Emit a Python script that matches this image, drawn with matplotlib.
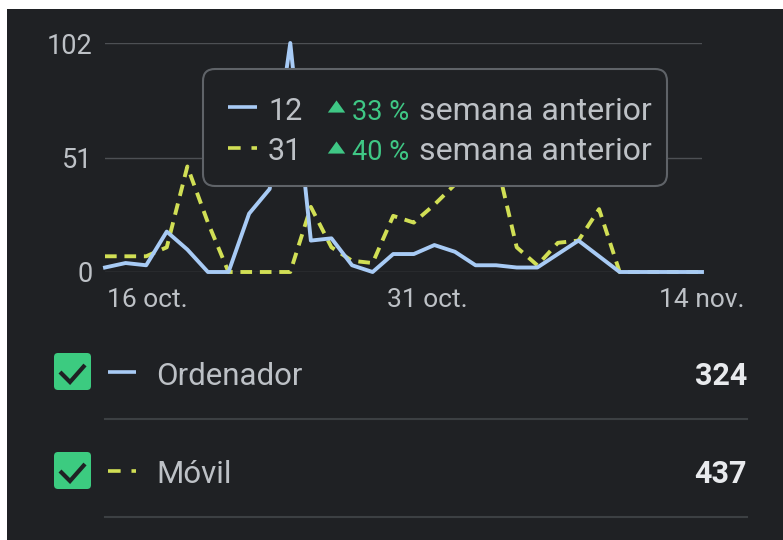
import matplotlib
matplotlib.use("Agg")
import matplotlib.pyplot as plt
import matplotlib.transforms as mtransforms
import pandas as pd
from matplotlib.patches import FancyBboxPatch, Rectangle

plt.rcParams["font.family"] = ["Roboto", "DejaVu Sans"]

# data
dates = pd.date_range("2023-10-16", "2023-11-14", freq="D")
ordenador = [2, 4, 3, 18, 10, 0, 0, 26, 37, 102, 14, 15, 3, 0, 8, 8, 12, 9, 3, 3,
             2, 2, 8, 14, 7, 0, 0, 0, 0, 0]
movil = [7, 7, 7, 11, 47, 22, 0, 0, 0, 0, 29, 11, 5, 4, 25, 22, 30, 39, 54, 50,
         11, 3, 13, 14, 28, 0, 0, 0, 0, 0]
y_ticks = [0, 51, 102]
x_tick_dates = pd.to_datetime(["2023-10-16", "2023-10-31", "2023-11-14"])
x_tick_labels = ["16 oct.", "31 oct.", "14 nov."]

series_names = ["Ordenador", "Móvil"]
series_totals = ["324", "437"]
tooltip_values = ["12", "31"]
tooltip_changes = ["33 %", "40 %"]

BG = "#1f2124"
GRID = "#4d5054"
TXT = "#bdc1c6"
BLUE = "#a8cbf5"
LIME = "#d1df55"
GREEN = "#3fc785"
CHECK = "#3ccb80"

fig = plt.figure(figsize=(7.83, 5.4), dpi=100, facecolor="white")
fig.add_artist(Rectangle((7 / 783, 0), 776 / 783, 531 / 540, transform=fig.transFigure,
                         facecolor=BG, edgecolor="none", zorder=-1))

# chart
ax = fig.add_axes([105 / 783, (540 - 272) / 540, 597 / 783, 229 / 540])
ax.patch.set_alpha(0)
for s in ax.spines.values():
    s.set_visible(False)
ax.plot(dates, ordenador, color=BLUE, lw=2.8, clip_on=False, zorder=3)
ax.plot(dates, movil, color=LIME, lw=2.8, ls=(0, (3, 2)), clip_on=False, zorder=2)
ax.set_xlim(dates[0], dates[-1])
ax.set_ylim(0, 102)
ax.set_yticks(y_ticks)
ax.set_yticklabels([str(v) for v in y_ticks])
ax.set_xticks([])
ax.grid(axis="y", color=GRID, lw=1)
ax.tick_params(axis="y", length=0, pad=9, labelsize=19.5, labelcolor=TXT)

x_offsets = [2, 14, 0]
x_aligns = ["left", "center", "center"]
for d, lab, dx, ha in zip(x_tick_dates, x_tick_labels, x_offsets, x_aligns):
    tr = mtransforms.offset_copy(ax.get_xaxis_transform(), fig=fig, x=dx, y=-28, units="dots")
    ax.text(d, 0, lab, transform=tr, ha=ha, va="center", fontsize=19, color=TXT)

# overlay in pixel coordinates: tooltip and legend
ov = fig.add_axes([0, 0, 1, 1], zorder=5)
ov.set_xlim(0, 783)
ov.set_ylim(540, 0)
ov.axis("off")

ov.add_patch(FancyBboxPatch((203, 69), 464, 117, boxstyle="round,pad=0,rounding_size=12",
                            facecolor=BG, edgecolor="#5f6368", lw=1.5))
row_y = [107, 148]
base_y = [120, 160]
styles = ["-", (0, (3.5, 3))]
colors = [BLUE, LIME]
triangle = [(-1, -0.7), (1, -0.7), (0, 0.7)]
for i in range(2):
    ov.plot([228, 257], [row_y[i]] * 2, color=colors[i], ls=styles[i], lw=2.6,
            solid_capstyle="butt", dash_capstyle="butt")
    ov.text(268, base_y[i], tooltip_values[i], fontsize=22, color=TXT, va="baseline")
    ov.plot([335.5], [row_y[i] - 1], marker=triangle, ms=12.5, color=GREEN, mec="none")
    ov.text(352, base_y[i], tooltip_changes[i], fontsize=19.5, color=GREEN, va="baseline")
    ov.text(419, base_y[i], "semana anterior", fontsize=23, color=TXT, va="baseline")

# legend rows
box_top = [353, 452]
text_base = [385, 483]
sep_y = [419, 517]
for i in range(2):
    t = box_top[i]
    ov.add_patch(FancyBboxPatch((54, t), 37, 37, boxstyle="round,pad=0,rounding_size=4",
                                facecolor=CHECK, edgecolor="none"))
    ov.plot([60, 70, 85], [t + 19, t + 29, t + 12], color=BG, lw=3,
            solid_capstyle="butt", solid_joinstyle="miter")
    ov.plot([108, 136], [t + 19] * 2, color=colors[i], ls=styles[i], lw=2.6,
            solid_capstyle="butt", dash_capstyle="butt")
    ov.text(156, text_base[i], series_names[i], fontsize=22.5, color=TXT, va="baseline")
    ov.text(747, text_base[i], series_totals[i], fontsize=22, color="#e8eaed",
            fontweight="bold", ha="right", va="baseline")
    ov.plot([105, 747], [sep_y[i]] * 2, color="#3c4043", lw=1.5)

fig.savefig("out.png", dpi=100, facecolor=fig.get_facecolor())
